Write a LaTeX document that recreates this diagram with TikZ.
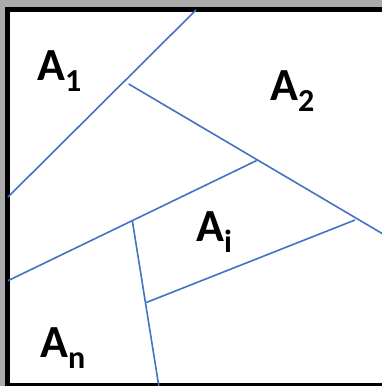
\documentclass[tikz,border=0pt]{standalone}
\usepackage{xcolor}
\usepackage{fontspec}
\newfontfamily\regionfont{Carlito}
\usepackage{tikz}
\usetikzlibrary{positioning}
\definecolor{cutblue}{RGB}{68,114,196}
\tikzstyle{frame}  = [draw=black, fill=white, line width=4.5pt]
\tikzstyle{cut}    = [draw=cutblue, line width=1.6pt]
\tikzstyle{region} = [inner sep=0pt, anchor=base west,
                      font=\regionfont\bfseries\fontsize{46}{46}\selectfont]
\newcommand{\regionlabel}[2]{A\raisebox{-11pt}{\fontsize{32}{32}\selectfont #2}}

\begin{document}
\begin{tikzpicture}[x=1pt, y=-1pt]
  \useasboundingbox (0,0) rectangle (382,386);
  \clip (0,0) rectangle (382,386);
  \fill[black!33] (0,0) rectangle (382,386);
  \draw[frame] (7.5,9.3) rectangle (400,385.5);

  % corners of the cuts
  \coordinate (l1a) at (8,197);
  \coordinate (l1b) at (196,10);
  \coordinate (l2a) at (128.7,84);
  \coordinate (l2b) at (383,234);
  \coordinate (l3a) at (8,280.7);
  \coordinate (l3b) at (256.7,160.5);
  \coordinate (l4a) at (132.3,220.5);
  \coordinate (l4b) at (158.8,386);
  \coordinate (l5a) at (146.3,302.5);
  \coordinate (l5b) at (355,220);

  \draw[cut] (l1a) -- (l1b);
  \draw[cut] (l2a) -- (l2b);
  \draw[cut] (l3a) -- (l3b);
  \draw[cut] (l4a) -- (l4b);
  \draw[cut] (l5a) -- (l5b);

  \node[region] (a1) at (37,80)  {\regionlabel{A}{1}};
  \node[region] (a2) at (270,100) {\regionlabel{A}{2}};
  \node[region] (ai) at (196,241) {\regionlabel{A}{i}};
  \node[region] (an) at (40,357) {\regionlabel{A}{n}};
\end{tikzpicture}
\end{document}
